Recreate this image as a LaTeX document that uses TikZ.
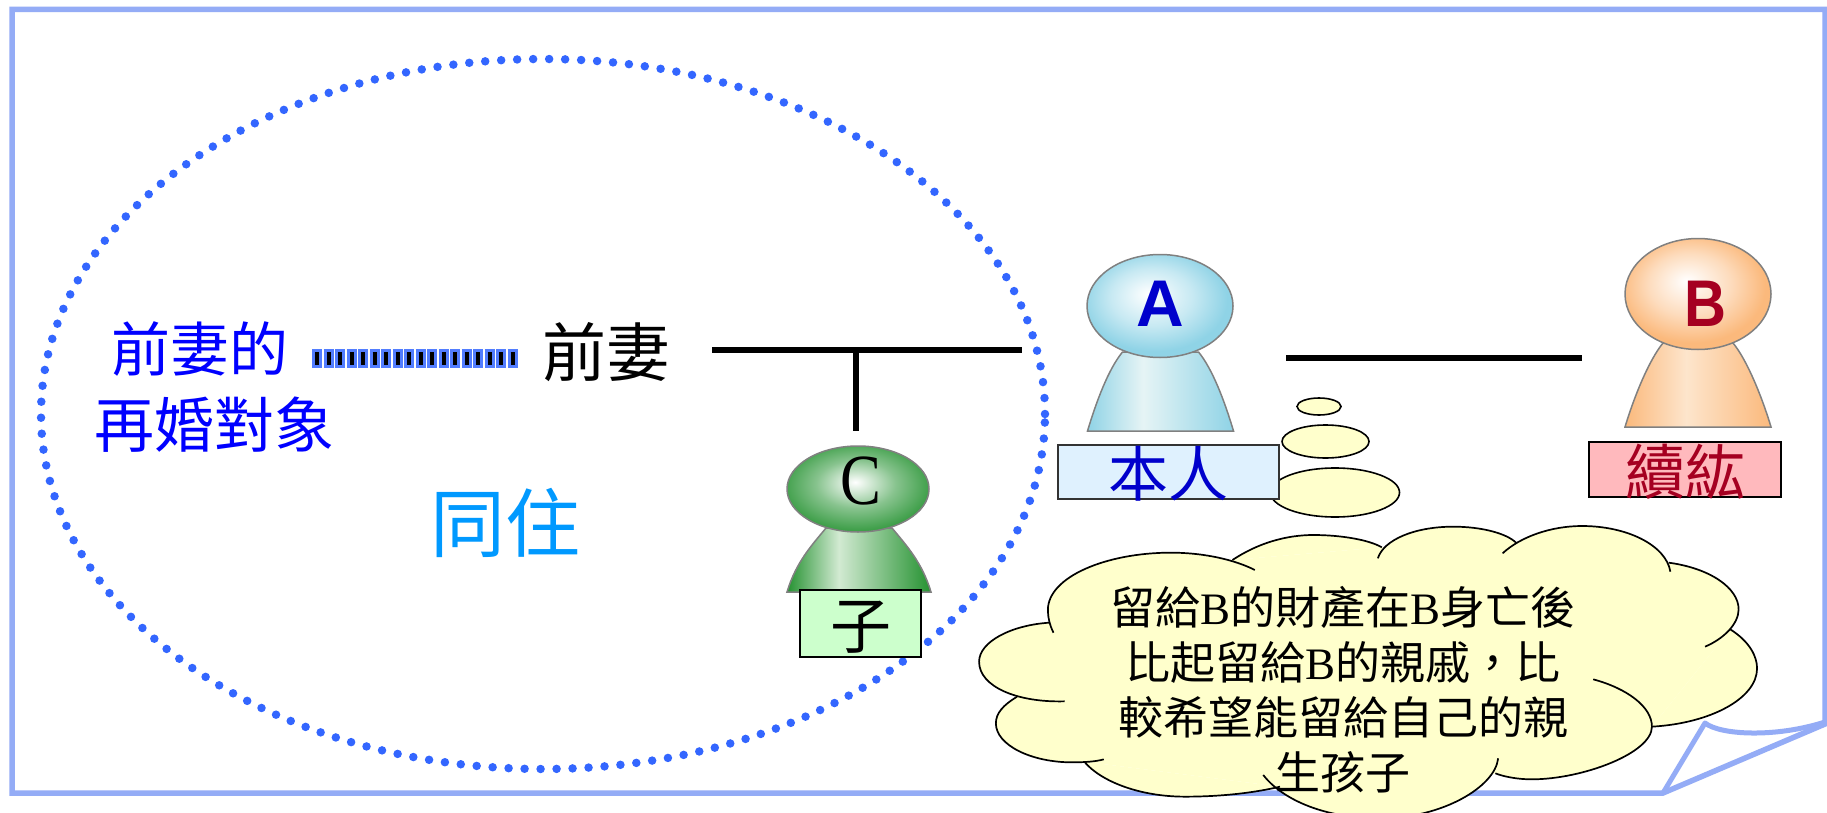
\documentclass[tikz,border=0pt]{standalone}
\usepackage{fontspec}
\setmainfont{Liberation Serif}
\newfontfamily\cjk{Noto Sans CJK TC}
\newfontfamily\latsans{Liberation Sans}
\newfontfamily\latserif{Liberation Serif}
\usetikzlibrary{shapes.geometric}
\definecolor{framec}{HTML}{94ACF6}
\definecolor{dotc}{HTML}{3366FF}
\definecolor{cloudc}{HTML}{FFFFCC}
\definecolor{skyc}{HTML}{0099FF}
\definecolor{pureblue}{HTML}{0000FF}
\definecolor{ablue}{HTML}{0000CC}
\definecolor{bred}{HTML}{A50021}
\definecolor{aedge}{HTML}{8FD3E6}
\definecolor{amid}{HTML}{E6F4F5}
\definecolor{bedge}{HTML}{FBB97C}
\definecolor{bmid}{HTML}{FDE5CC}
\definecolor{cedge}{HTML}{259231}
\definecolor{cmid}{HTML}{D2EAD2}
\definecolor{boxa}{HTML}{DFF1FE}
\definecolor{boxb}{HTML}{FFB9BD}
\definecolor{boxc}{HTML}{CCFFCC}
\pgfdeclarehorizontalshading{bodyA}{100bp}{color(0bp)=(aedge);color(25bp)=(aedge);color(44bp)=(amid);color(75bp)=(aedge);color(100bp)=(aedge)}
\pgfdeclarehorizontalshading{bodyB}{100bp}{color(0bp)=(bedge);color(25bp)=(bedge);color(46bp)=(bmid);color(75bp)=(bedge);color(100bp)=(bedge)}
\pgfdeclarehorizontalshading{bodyC}{100bp}{color(0bp)=(cedge);color(25bp)=(cedge);color(43bp)=(cmid);color(75bp)=(cedge);color(100bp)=(cedge)}
\pgfdeclareradialshading{headA}{\pgfpoint{-4bp}{6bp}}{color(0bp)=(white);color(14bp)=(aedge!50!white);color(25bp)=(aedge);color(50bp)=(aedge)}
\pgfdeclareradialshading{headB}{\pgfpoint{-4bp}{6bp}}{color(0bp)=(white);color(14bp)=(bedge!50!white);color(25bp)=(bedge);color(50bp)=(bedge)}
\pgfdeclareradialshading{headC}{\pgfpoint{-1bp}{4bp}}{color(0bp)=(white);color(14bp)=(cedge!55!white);color(30bp)=(cedge);color(50bp)=(cedge)}
\tikzset{
  headshape/.style={ellipse,draw=black!50,line width=1.5pt,inner sep=0pt},
  bodyshape/.style={draw=black!50,line width=1.5pt},
  labelbox/.style={rectangle,draw=black,line width=1.6pt,inner sep=0pt,text height=49pt,text depth=0pt},
  tline/.style={draw=black,line width=6pt},
  bubble/.style={ellipse,draw=black,fill=cloudc,line width=1.6pt,inner sep=0pt},
  plaintext/.style={inner sep=0pt,align=center},
}
\newcommand{\fsz}[1]{\fontsize{#1}{#1}\selectfont}
% body of a figure: centre x, bottom y, top y, half width, half neck, shading
\newcommand{\figbody}[6]{%
  \path[bodyshape,shading=#6]
    ({#1-#4},#2) .. controls ({#1-#4+9},{#2-30}) and ({#1-#5-14},{#3+17}) .. ({#1-#5},#3)
    -- ({#1+#5},#3) .. controls ({#1+#5+14},{#3+17}) and ({#1+#4-9},{#2-30}) .. ({#1+#4},#2) -- cycle;}
\newcommand{\cloudlobes}[1]{%
  \path[#1] (205,574) .. controls (120,578) and (52,530) .. (52,455) .. controls (52,395) and (110,345) .. (178,338);
  \path[#1] (185,368) .. controls (178,345) and (175,320) .. (175,300) .. controls (175,200) and (280,128) .. (395,128) .. controls (455,128) and (510,150) .. (545,180);
  \path[#1] (505,150) .. controls (550,100) and (600,75) .. (650,75) .. controls (700,75) and (750,90) .. (772,112);
  \path[#1] (765,145) .. controls (775,90) and (830,50) .. (900,50) .. controls (950,50) and (995,70) .. (1012,98);
  \path[#1] (988,130) .. controls (1020,80) and (1075,48) .. (1130,48) .. controls (1210,48) and (1280,105) .. (1288,185);
  \path[#1] (1285,158) .. controls (1360,175) and (1410,235) .. (1410,298) .. controls (1410,340) and (1385,385) .. (1350,410);
  \path[#1] (1395,358) .. controls (1430,395) and (1443,440) .. (1443,475) .. controls (1443,565) and (1360,640) .. (1255,650);
  \path[#1] (1150,508) .. controls (1210,535) and (1255,590) .. (1255,650) .. controls (1255,730) and (1130,808) .. (1040,808) .. controls (1015,808) and (990,800) .. (975,790);
  \path[#1] (590,830) .. controls (540,850) and (480,860) .. (420,860) .. controls (340,860) and (270,815) .. (240,755);
  \path[#1] (120,560) .. controls (95,585) and (82,610) .. (82,640) .. controls (82,705) and (145,757) .. (218,757) .. controls (240,757) and (260,755) .. (275,748);
  \path[#1] (980,745) .. controls (975,830) and (880,925) .. (770,925) .. controls (660,925) and (590,860) .. (560,795);
}
\begin{document}
\begin{tikzpicture}[x=1pt,y=-1pt]
\useasboundingbox (0,0) rectangle (1827,813);
\fill[white] (0,0) rectangle (1827,813);
% frame with folded corner
\draw[framec,line width=5.5pt,line join=miter]
  (12,9.5) -- (1825,9.5) -- (1825,724) -- (1663,793) -- (12,793) -- cycle;
\draw[framec,line width=5pt,line join=round]
  (1663,793) -- (1705,723) .. controls (1720,735) and (1775,738) .. (1825,722);
% dotted ellipse
\node[ellipse,draw=dotc,line width=8.5pt,line cap=round,dash pattern=on 0pt off 16pt,
      minimum width=1004pt,minimum height=710pt,inner sep=0pt] (stay) at (543,414) {};
% left texts
\node[plaintext,pureblue,font=\cjk\fsz{59}] (exnew1) at (200,349) {前妻的};
\node[plaintext,pureblue,font=\cjk\fsz{60}] (exnew2) at (214,425) {再婚對象};
\node[plaintext,font=\cjk\fsz{64}] (ex) at (606,352) {前妻};
\node[plaintext,skyc,font=\cjk\fsz{75}] (live) at (505,523) {同住};
\coordinate (barL) at (312,358.5);
\coordinate (barR) at (519,358.5);
\draw[dotc!85,line width=19pt,dash pattern=on 10pt off 1.5pt] (barL) -- (barR);
\draw[black,line width=13pt,dash pattern=on 4pt off 7.5pt,dash phase=-3pt] (barL) -- (barR);
% connectors
\coordinate (tL) at (712,350);
\coordinate (tR) at (1022,350);
\coordinate (tMid) at (856,350);
\coordinate (tEnd) at (856,431);
\draw[tline] (tL) -- (tR);
\draw[tline] (tMid) -- (tEnd);
\coordinate (abL) at (1286,358);
\coordinate (abR) at (1582,358);
\draw[tline] (abL) -- (abR);
% thought bubbles
\node[bubble,minimum width=44pt,minimum height=17pt] (b1) at (1319,406.5) {};
\node[bubble,minimum width=87pt,minimum height=33pt] (b2) at (1325.5,441.5) {};
\node[bubble,minimum width=129pt,minimum height=49pt] (b3) at (1335,492.5) {};
% person C
\figbody{859}{592}{528}{72}{33}{bodyC}
\node[headshape,shading=headC,minimum width=142pt,minimum height=86pt] (headC) at (858,489) {};
\node[plaintext,font=\latserif\fsz{72}] (letterC) at (861,481) {\scalebox{0.85}[1]{C}};
\node[labelbox,fill=boxc,minimum width=121pt,minimum height=67pt,font=\cjk\fsz{61}] (boxC) at (860.5,623.5) {子};
% person A
\figbody{1160.5}{431}{352}{73}{38}{bodyA}
\node[headshape,shading=headA,minimum width=146pt,minimum height=103pt] (headA) at (1160,306) {};
\node[plaintext,text=ablue,font=\latsans\bfseries\fsz{66}] (letterA) at (1160,304) {A};
\node[labelbox,draw=black!80,fill=boxa,minimum width=221pt,minimum height=54pt,text=ablue,font=\cjk\fsz{60}] (boxA) at (1168.5,472) {本人};
% person B
\figbody{1698}{427}{343}{73}{35}{bodyB}
\node[headshape,shading=headB,minimum width=146pt,minimum height=111pt] (headB) at (1698,294) {};
\node[plaintext,text=bred,font=\latsans\bfseries\fsz{66}] (letterB) at (1705,304) {\scalebox{0.88}[1]{B}};
\node[labelbox,fill=boxb,minimum width=192pt,minimum height=55pt,text=bred,font=\cjk\fsz{60}] (boxB) at (1685,469.5) {續紘};
% cloud
\begin{scope}
\clip (0,0) rectangle (1827,813);
\begin{scope}[shift={(950,510)},x=0.5593pt,y=-0.33333pt,line width=1.7pt]
\fill[cloudc] (120,560) -- (178,338) -- (505,150) -- (772,112) -- (1012,98) -- (1285,158) -- (1395,358) -- (1255,650) -- (975,790) -- (800,880) -- (590,830) -- (240,755) -- cycle;
\cloudlobes{fill=cloudc}
\cloudlobes{draw=black}
\end{scope}
\end{scope}
\node[plaintext,font=\cjk\fontsize{45}{55}\selectfont] (cloudtext) at (1343,690) {留給{\latserif B}的財產在{\latserif B}身亡後\\比起留給{\latserif B}的親戚，比\\較希望能留給自己的親\\生孩子};
\end{tikzpicture}
\end{document}
